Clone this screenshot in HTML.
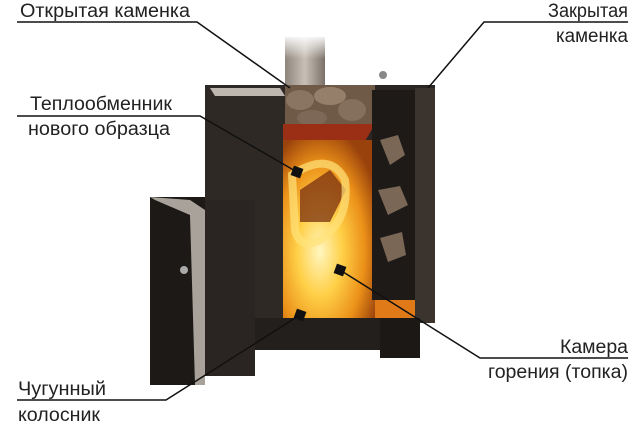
<!DOCTYPE html>
<html><head><meta charset="utf-8"><style>
html,body{margin:0;padding:0;background:#fff;width:639px;height:442px;overflow:hidden}
svg{display:block}
text{font-family:"Liberation Sans","DejaVu Sans",sans-serif;font-size:19px;fill:#222}
</style></head><body>
<svg width="639" height="442" viewBox="0 0 639 442" xmlns="http://www.w3.org/2000/svg">
<defs>
<radialGradient id="fire" cx="0.4" cy="0.62" r="0.7">
<stop offset="0" stop-color="#fff6c0"/><stop offset="0.35" stop-color="#ffd048"/><stop offset="0.7" stop-color="#eb9018"/><stop offset="1" stop-color="#9a420c"/>
</radialGradient>
<linearGradient id="chim" x1="0" x2="1"><stop offset="0" stop-color="#8e857c"/><stop offset="0.5" stop-color="#c8c0b6"/><stop offset="1" stop-color="#7a7068"/></linearGradient>
<linearGradient id="chimv" x1="0" y1="0" x2="0" y2="1"><stop offset="0" stop-color="#fff" stop-opacity="0.9"/><stop offset="0.4" stop-color="#fff" stop-opacity="0"/></linearGradient>
</defs>
<rect x="285" y="37" width="40" height="55" fill="url(#chim)"/>
<rect x="285" y="37" width="40" height="55" fill="url(#chimv)"/>
<rect x="205" y="85" width="230" height="238" fill="#2b2623"/>
<rect x="415" y="88" width="20" height="235" fill="#3a332e"/>
<rect x="205" y="85" width="80" height="265" fill="#2e2925"/>
<polygon points="210,88 280,88 285,96 215,96" fill="#bdb7b0"/>
<rect x="285" y="85" width="90" height="42" fill="#6f5a48"/>
<ellipse cx="300" cy="100" rx="14" ry="10" fill="#8a7562"/>
<ellipse cx="330" cy="96" rx="16" ry="9" fill="#957f6b"/>
<ellipse cx="352" cy="110" rx="14" ry="11" fill="#85705d"/>
<ellipse cx="312" cy="118" rx="15" ry="8" fill="#7d6857"/>
<polygon points="283,124 375,124 360,150 283,150" fill="#9a2f16"/>
<rect x="283" y="140" width="92" height="180" fill="url(#fire)"/>
<rect x="375" y="270" width="40" height="50" fill="#e07a18"/>
<polygon points="300,190 330,170 346,190 330,222 300,222" fill="#7a3010" opacity="0.75"/>
<path d="M292,175 Q330,150 345,180 Q350,220 320,240 Q300,250 295,230 Z" fill="none" stroke="#ffe27a" stroke-width="8" opacity="0.7"/>
<rect x="372" y="90" width="43" height="210" fill="#1e1a18"/>
<polygon points="380,140 398,135 405,155 390,165" fill="#7a6756"/>
<polygon points="378,190 400,186 408,205 388,215" fill="#7a6756"/>
<polygon points="380,238 402,232 406,255 388,262" fill="#7a6756"/>
<circle cx="383" cy="75" r="4" fill="#888"/>
<rect x="255" y="318" width="165" height="32" fill="#231f1c"/>
<rect x="380" y="318" width="40" height="40" fill="#1c1816"/>
<rect x="190" y="200" width="65" height="176" fill="#2a2522"/>
<rect x="150" y="197" width="55" height="188" fill="#1c1917"/>
<polygon points="150,197 190,200 205,210 205,385 195,385 190,215 155,200" fill="#a9a29a"/>
<circle cx="184" cy="270" r="4" fill="#aaa"/>
<rect x="292" y="167" width="10" height="10" fill="#111" transform="rotate(20 297 172)"/>
<rect x="335" y="265" width="10" height="10" fill="#111" transform="rotate(20 340 270)"/>
<rect x="295" y="310" width="10" height="10" fill="#111" transform="rotate(20 300 315)"/>
<g stroke="#111" stroke-width="1.5" fill="none">
<polyline points="17,22 197,22 290,88"/>
<polyline points="628,22 484,22 428,88"/>
<polyline points="17,116 200,116 297,172"/>
<polyline points="628,358 480,358 340,270"/>
<polyline points="17,400 166,400 300,315"/>
</g>
<text x="20" y="17" textLength="170" lengthAdjust="spacingAndGlyphs">Открытая каменка</text>
<text x="548" y="17" textLength="80" lengthAdjust="spacingAndGlyphs">Закрытая</text>
<text x="556" y="42" textLength="72" lengthAdjust="spacingAndGlyphs">каменка</text>
<text x="30" y="110" textLength="142" lengthAdjust="spacingAndGlyphs">Теплообменник</text>
<text x="28" y="135" textLength="142" lengthAdjust="spacingAndGlyphs">нового образца</text>
<text x="560" y="353" textLength="68" lengthAdjust="spacingAndGlyphs">Камера</text>
<text x="488" y="378" textLength="140" lengthAdjust="spacingAndGlyphs">горения (топка)</text>
<text x="18" y="395" textLength="88" lengthAdjust="spacingAndGlyphs">Чугунный</text>
<text x="18" y="421" textLength="82" lengthAdjust="spacingAndGlyphs">колосник</text>
</svg>
</body></html>
